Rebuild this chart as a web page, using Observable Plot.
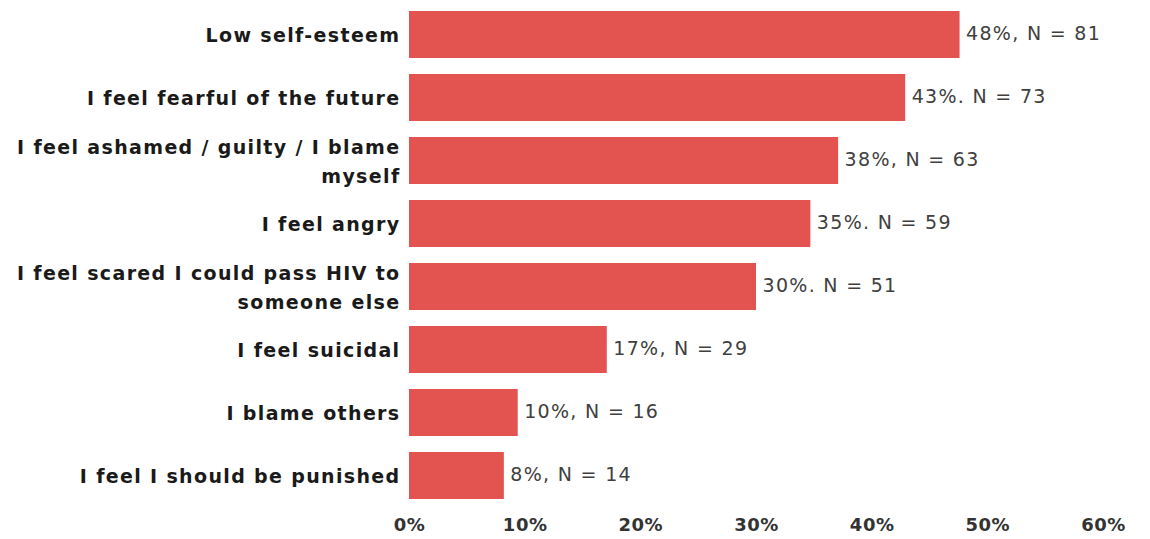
<!DOCTYPE html>
<html>
<head>
<meta charset="utf-8">
<script src="https://cdn.jsdelivr.net/npm/d3@7"></script>
<script src="https://cdn.jsdelivr.net/npm/@observablehq/plot@0.6"></script>
<style>
  html, body { margin: 0; padding: 0; background: #fff; }
  g[aria-label="y-axis tick label"] text { letter-spacing: 1.35px; }
  g[aria-label="x-axis tick label"] text { letter-spacing: 0.5px; }
  g[aria-label="text"] text { letter-spacing: 1.3px; }
</style>
</head>
<body>
<div id="chart"></div>
<script>
const categories = [
  "Low self-esteem",
  "I feel fearful of the future",
  "I feel ashamed / guilty / I blame\nmyself",
  "I feel angry",
  "I feel scared I could pass HIV to\nsomeone else",
  "I feel suicidal",
  "I blame others",
  "I feel I should be punished"
];
const percents = [47.6, 42.9, 37.1, 34.7, 30.0, 17.1, 9.4, 8.2];
const percentLabels = ["48%,", "43%.", "38%,", "35%.", "30%.", "17%,", "10%,", "8%,"];
const counts = [81, 73, 63, 59, 51, 29, 16, 14];
const xTicks = [0, 10, 20, 30, 40, 50, 60];

const data = categories.map((c, i) => ({
  category: c,
  value: percents[i],
  label: `${percentLabels[i]} N = ${counts[i]}`
}));

const chart = Plot.plot({
  width: 1150,
  height: 539,
  marginLeft: 409,
  marginRight: 47,
  marginTop: 0,
  marginBottom: 29,
  x: { domain: [0, 60], ticks: xTicks, tickFormat: d => d + "%" },
  y: { domain: categories, paddingInner: 0.25, paddingOuter: 0.125 },
  style: { fontFamily: "DejaVu Sans", background: "#fff" },
  marks: [
    Plot.barX(data, { x: "value", y: "category", fill: "#e35451" }),
    Plot.text(data, {
      x: "value", y: "category", text: "label",
      textAnchor: "start", dx: 6, dy: -1, fontSize: 19, fill: "#404040"
    }),
    Plot.axisY({
      tickSize: 0, tickPadding: 9, dy: -2, fontSize: 19, fontWeight: "bold",
      fill: "#1a1a1a", label: null, lineHeight: 1.55
    }),
    Plot.axisX({
      ticks: xTicks, tickFormat: d => d + "%", tickSize: 0, tickPadding: 8,
      fontSize: 18, fontWeight: "bold", fill: "#333", label: null
    })
  ]
});
document.getElementById("chart").appendChild(chart);
</script>
</body>
</html>
